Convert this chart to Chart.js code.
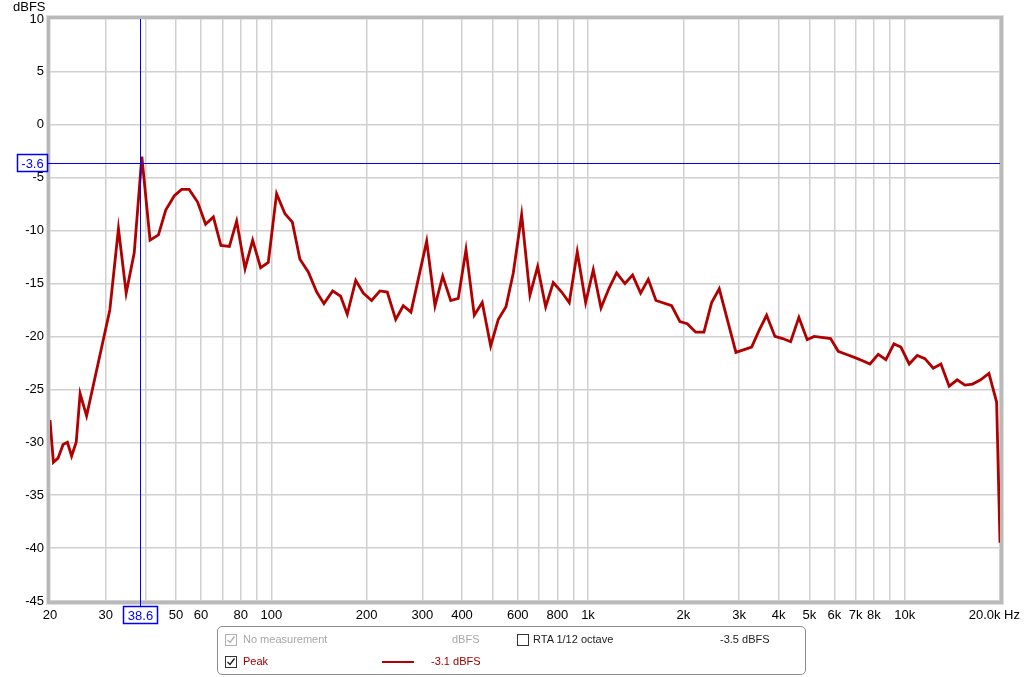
<!DOCTYPE html>
<html>
<head>
<meta charset="utf-8">
<script src="https://cdn.jsdelivr.net/npm/chart.js@4.4.1/dist/chart.umd.min.js"></script>
<style>
  body { margin: 0; background: #fff; font-family: "Liberation Sans", Arial, sans-serif; }
  #wrap { position: relative; width: 1024px; height: 677px; }
  #legend {
    position: absolute; left: 217px; top: 626px; width: 589px; height: 49px;
    border: 1px solid #8c8c8c; border-radius: 5px; font-size: 11px; box-sizing: border-box;
  }
  .it { position: absolute; white-space: nowrap; line-height: 13px; }
  .cb { position: absolute; width: 12px; height: 12px; box-sizing: border-box; border: 1px solid #333; background: #fff; }
  .cb.dim { border-color: #b0b0b0; }
  .cb svg { position: absolute; left: 0; top: 0; }
</style>
</head>
<body>
<div id="wrap">
  <canvas id="chart" width="1024" height="677"></canvas>
  <div id="legend">
    <span class="cb dim" style="left:7px;top:7px"><svg width="10" height="10"><polyline points="1.5,5 4,7.5 8.5,1.5" fill="none" stroke="#b0b0b0" stroke-width="1.4"/></svg></span>
    <span class="it" style="left:25px;top:6px;color:#a8a8a8">No measurement</span>
    <span class="it" style="left:234px;top:6px;color:#a8a8a8">dBFS</span>
    <span class="cb" style="left:299px;top:7px"></span>
    <span class="it" style="left:315px;top:6px;color:#222">RTA 1/12 octave</span>
    <span class="it" style="left:502px;top:6px;color:#222">-3.5 dBFS</span>
    <span class="cb" style="left:7px;top:29px"><svg width="10" height="10"><polyline points="1.5,5 4,7.5 8.5,1.5" fill="none" stroke="#222" stroke-width="1.4"/></svg></span>
    <span class="it" style="left:25px;top:28px;color:#a00000">Peak</span>
    <span style="position:absolute;left:164px;top:34px;width:32px;height:2px;background:#b40000"></span>
    <span class="it" style="left:213px;top:28px;color:#a00000">-3.1 dBFS</span>
  </div>
</div>
<script>
// frequency points (Hz) and level (dBFS)
const freqs = [20, 20.5, 21.2, 22.0, 22.7, 23.4, 24.2, 24.9, 26.1, 30.9,
  32.9, 34.8, 36.9, 39.0, 41.4, 44.0, 46.4, 49.4, 52.1, 55.0,
  58.5, 62.0, 65.6, 69.3, 73.7, 77.7, 82.6, 87.3, 92.5, 97.8,
  103.9, 110.4, 116.5, 123.1, 130.8, 139.1, 146.6, 156.2, 165.5, 173.7,
  184.7, 195.1, 207.4, 220.3, 232.3, 247, 261, 276, 309.4, 328.7,
  347.6, 368.4, 389.3, 411.8, 437.4, 463.4, 492.8, 520.6, 550.8, 580.8,
  617.2, 655.6, 693.4, 735, 776.8, 825.6, 872.6, 924.8, 983, 1039,
  1099, 1167, 1231, 1308, 1383, 1466, 1550, 1639, 1837, 1951,
  2058, 2188, 2323, 2457, 2597, 2932, 3286, 3473, 3664, 3893,
  4117, 4364, 4634, 4922, 5180, 5836, 6168, 6556, 6966, 7366,
  7768, 8250, 8724, 9248, 9728, 10336, 10956, 11586, 12306, 13014,
  13822, 14650, 15492, 16384, 17370, 18452, 19514, 20000];
const levels = [-27.9, -31.9, -31.5, -30.2, -30.0, -31.3, -30.0, -25.4, -27.5, -17.5,
  -9.8, -15.9, -12.1, -3.0, -10.9, -10.4, -8.05, -6.7, -6.1, -6.1,
  -7.3, -9.4, -8.7, -11.4, -11.5, -9.1, -13.6, -10.9, -13.5, -13.0,
  -6.5, -8.4, -9.2, -12.7, -13.9, -15.8, -16.9, -15.7, -16.2, -17.9,
  -14.7, -15.9, -16.6, -15.7, -15.8, -18.4, -17.1, -17.7, -11.0, -17.1,
  -14.3, -16.6, -16.4, -11.8, -18.0, -16.8, -20.9, -18.4, -17.2, -14.0,
  -8.5, -16.1, -13.4, -17.2, -14.9, -15.8, -16.8, -12.0, -16.8, -13.7,
  -17.3, -15.4, -14.0, -15.0, -14.2, -15.9, -14.6, -16.6, -17.1, -18.6,
  -18.8, -19.6, -19.6, -16.8, -15.5, -21.5, -21.0, -19.4, -18.0, -20.0,
  -20.2, -20.5, -18.2, -20.3, -20.0, -20.2, -21.4, -21.7, -22.0, -22.3,
  -22.6, -21.7, -22.2, -20.7, -21.0, -22.6, -21.8, -22.1, -23.0, -22.6,
  -24.7, -24.1, -24.6, -24.5, -24.1, -23.5, -26.2, -39.5];

// x grid lines and which of them get a label
const gridFreqs = [20, 30, 40, 50, 60, 70, 80, 90, 100, 200, 300, 400, 500, 600, 700, 800, 900,
  1000, 2000, 3000, 4000, 5000, 6000, 7000, 8000, 9000, 10000, 20000];
const tickLabels = { 20: "20", 30: "30", 50: "50", 60: "60", 80: "80", 100: "100", 200: "200",
  300: "300", 400: "400", 600: "600", 800: "800", 1000: "1k", 2000: "2k", 3000: "3k", 4000: "4k",
  5000: "5k", 6000: "6k", 7000: "7k", 8000: "8k", 10000: "10k" };

// cursor position
const cursorFreq = 38.6;
const cursorLevel = -3.6;

const FONT = '"Liberation Sans", Arial, sans-serif';
const BLUE = "#0000ff";

const overlay = {
  id: "overlay",
  afterDraw(chart) {
    const { ctx, chartArea: a, scales } = chart;
    const cx = Math.round(scales.x.getPixelForValue(cursorFreq));
    const cy = Math.round(scales.y.getPixelForValue(cursorLevel));
    ctx.save();

    // frame
    ctx.strokeStyle = "#b9b9b9";
    ctx.lineWidth = 3;
    ctx.strokeRect(a.left - 1.5, a.top - 1.5, a.right - a.left + 3, a.bottom - a.top + 3);
    ctx.strokeStyle = "#dedede";
    ctx.lineWidth = 1;
    ctx.strokeRect(a.left - 3.5, a.top - 3.5, a.right - a.left + 7, a.bottom - a.top + 7);

    // cursor lines
    ctx.fillStyle = BLUE;
    ctx.fillRect(cx, a.top, 1, a.bottom + 5 - a.top);
    ctx.fillRect(a.left - 3, cy, a.right - a.left + 3, 1);

    // cursor labels
    ctx.font = "13px " + FONT;
    ctx.textAlign = "center";
    ctx.textBaseline = "middle";
    const box = (x, y, w, h, txt) => {
      ctx.fillStyle = "#fff";
      ctx.fillRect(x, y, w, h);
      ctx.strokeStyle = BLUE;
      ctx.lineWidth = 1.5;
      ctx.strokeRect(x + 0.5, y + 0.5, w - 1, h - 1);
      ctx.fillStyle = BLUE;
      ctx.fillText(txt, x + w / 2, y + h / 2 + 1);
    };
    box(17, cy - 9, 31, 18, cursorLevel.toFixed(1));
    box(cx - 17, 606, 35, 18, cursorFreq.toFixed(1));

    // axis titles
    ctx.fillStyle = "#000";
    ctx.textAlign = "left";
    ctx.fillText("dBFS", 13, 7);
    ctx.textAlign = "right";
    ctx.fillText("20.0k Hz", 1020, 615);
    ctx.restore();
  }
};

new Chart(document.getElementById("chart"), {
  type: "line",
  data: {
    datasets: [{
      label: "Peak",
      data: freqs.map((f, i) => ({ x: f, y: levels[i] })),
      borderColor: "#b00000",
      borderWidth: 2.8,
      pointRadius: 0,
      tension: 0,
      fill: false
    }]
  },
  options: {
    responsive: false,
    animation: false,
    devicePixelRatio: 1,
    layout: { padding: { top: 19, right: 24, left: 0, bottom: 0 } },
    plugins: { legend: { display: false }, tooltip: { enabled: false } },
    scales: {
      x: {
        type: "logarithmic",
        min: 20,
        max: 20000,
        afterBuildTicks: (s) => { s.ticks = gridFreqs.map((v) => ({ value: v })); },
        afterFit: (s) => { s.height = 76; },
        grid: { color: "#d0d0d0", lineWidth: 1.5, drawTicks: false },
        border: { display: false },
        ticks: {
          autoSkip: false,
          maxRotation: 0,
          padding: 7,
          color: "#000",
          font: { family: FONT, size: 13 },
          callback: (v) => tickLabels[v] || ""
        }
      },
      y: {
        min: -45,
        max: 10,
        afterFit: (s) => { s.width = 50; },
        grid: { color: "#d0d0d0", lineWidth: 1.5, drawTicks: false },
        border: { display: false },
        ticks: {
          stepSize: 5,
          padding: 6,
          color: "#000",
          font: { family: FONT, size: 13 }
        }
      }
    }
  },
  plugins: [overlay]
});
</script>
</body>
</html>
